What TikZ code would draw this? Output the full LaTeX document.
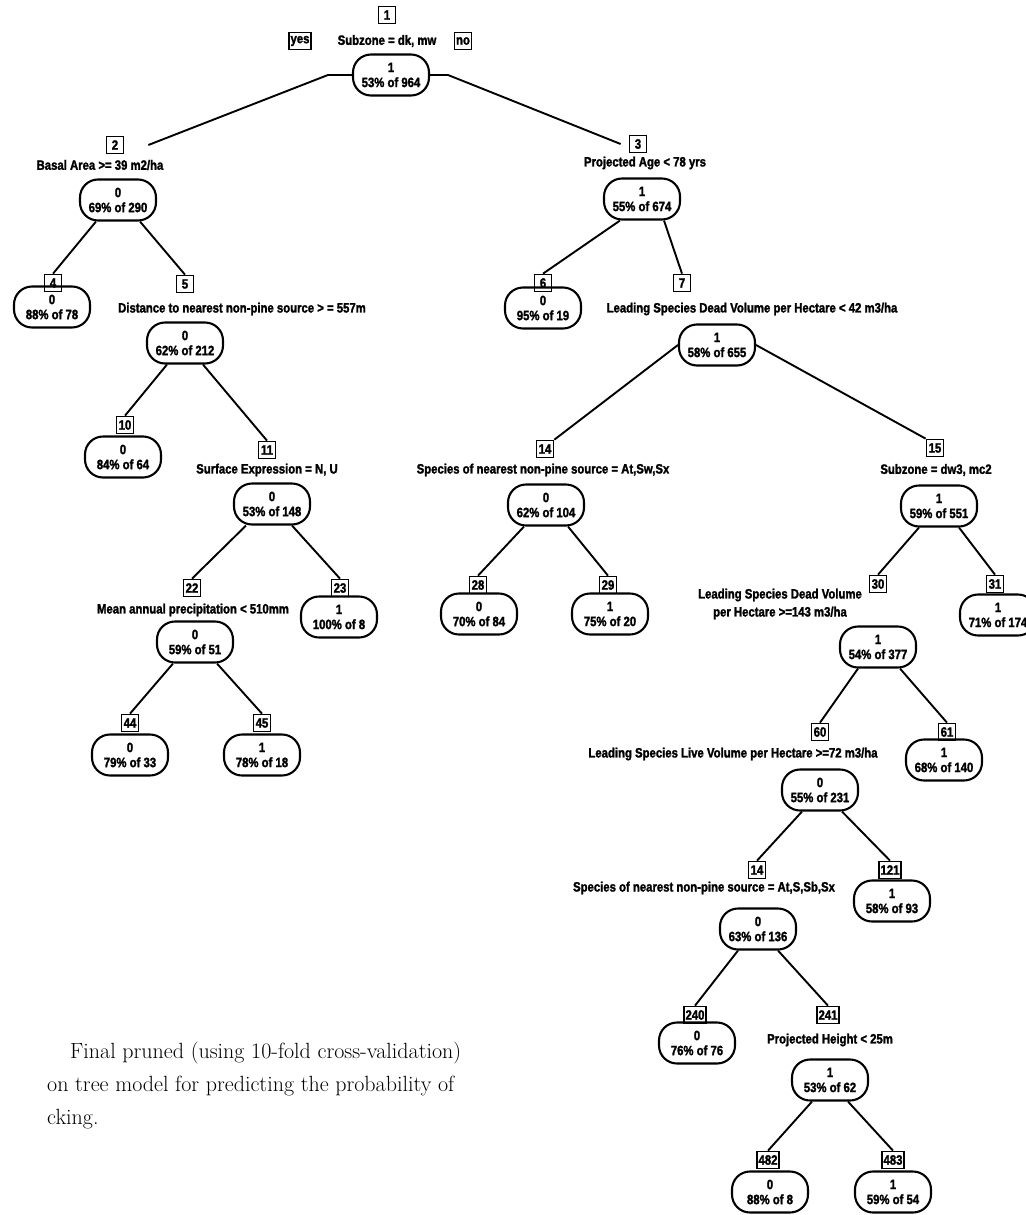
\documentclass[tikz,border=0pt]{standalone}
\usepackage{fontspec}
\newfontfamily\treefont[FakeStretch=0.84, BoldFeatures={FakeBold=1.8}]{Liberation Sans}
\usetikzlibrary{calc}

\begin{document}
\begin{tikzpicture}[x=1pt, y=-1pt,
   leaf/.style={draw, line width=2.1pt, rounded corners=18pt, minimum width=76pt,
                minimum height=41pt, inner sep=1pt, align=center,
                font=\treefont\bfseries\fontsize{13.5}{15}\selectfont},
   num/.style={draw, line width=1.7pt, inner sep=1.5pt, minimum height=17pt,
               minimum width=17pt, font=\treefont\bfseries\fontsize{13.5}{13}\selectfont},
   split/.style={inner sep=0pt, align=center,
                 font=\treefont\bfseries\fontsize{13.5}{18}\selectfont},
   branch/.style={line width=1.9pt},
   caption/.style={anchor=base west, inner sep=0pt, font=\fontsize{22}{26}\selectfont}]
  \useasboundingbox (0,0) rectangle (1025,1215);

  \node[num] (b1) at (387,15) {1};
  \node[split] (q1) at (387,41) {Subzone = dk, mw};
  \node[num] (yes) at (300,41) {yes};
  \node[num] (no) at (463,41) {no};
  \node[leaf] (o1) at (391,75) {1\\53\% of 964};

  \node[num] (b2) at (115,145) {2};
  \node[split] (q2) at (100,165) {Basal Area >= 39 m2/ha};
  \node[leaf] (o2) at (118,200) {0\\69\% of 290};

  \node[num] (b3) at (638,144) {3};
  \node[split] (q3) at (645,163) {Projected Age < 78 yrs};
  \node[leaf] (o3) at (642,199) {1\\55\% of 674};

  \node[num] (b4) at (53,283) {4};
  \node[leaf] (o4) at (52,307) {0\\88\% of 78};

  \node[num] (b5) at (185,284) {5};
  \node[split] (q5) at (242,309) {Distance to nearest non-pine source > = 557m};
  \node[leaf] (o5) at (185,343) {0\\62\% of 212};

  \node[num] (b6) at (543,283) {6};
  \node[leaf] (o6) at (543,308) {0\\95\% of 19};

  \node[num] (b7) at (682,283) {7};
  \node[split] (q7) at (752,309) {Leading Species Dead Volume per Hectare < 42 m3/ha};
  \node[leaf] (o7) at (717,345) {1\\58\% of 655};

  \node[num] (b10) at (125,425) {10};
  \node[leaf] (o10) at (123,457) {0\\84\% of 64};

  \node[num] (b11) at (267,450) {11};
  \node[split] (q11) at (267,470) {Surface Expression = N, U};
  \node[leaf] (o11) at (272,504) {0\\53\% of 148};

  \node[num] (b14) at (545,449) {14};
  \node[split] (q14) at (543,470) {Species of nearest non-pine source = At,Sw,Sx};
  \node[leaf] (o14) at (546,505) {0\\62\% of 104};

  \node[num] (b15) at (935,448) {15};
  \node[split] (q15) at (936,470) {Subzone = dw3, mc2};
  \node[leaf] (o15) at (939,506) {1\\59\% of 551};

  \node[num] (b22) at (192,588) {22};
  \node[split] (q22) at (193,610) {Mean annual precipitation < 510mm};
  \node[leaf] (o22) at (195,642) {0\\59\% of 51};

  \node[num] (b23) at (340,588) {23};
  \node[leaf] (o23) at (339,617) {1\\100\% of 8};

  \node[num] (b28) at (478,585) {28};
  \node[leaf] (o28) at (479,614) {0\\70\% of 84};

  \node[num] (b29) at (608,585) {29};
  \node[leaf] (o29) at (610,614) {1\\75\% of 20};

  \node[num] (b30) at (878,584) {30};
  \node[split] (q30) at (780,604) {Leading Species Dead Volume\\per Hectare >=143 m3/ha};
  \node[leaf] (o30) at (878,647) {1\\54\% of 377};

  \node[num] (b31) at (995,584) {31};
  \node[leaf] (o31) at (998,615) {1\\71\% of 174};

  \node[num] (b44) at (130,723) {44};
  \node[leaf] (o44) at (130,755) {0\\79\% of 33};

  \node[num] (b45) at (262,723) {45};
  \node[leaf] (o45) at (262,755) {1\\78\% of 18};

  \node[num] (b60) at (820,732) {60};
  \node[split] (q60) at (733,754) {Leading Species Live Volume per Hectare >=72 m3/ha};
  \node[leaf] (o60) at (820,790) {0\\55\% of 231};

  \node[num] (b61) at (947,732) {61};
  \node[leaf] (o61) at (944,760) {1\\68\% of 140};

  \node[num] (b120) at (757,870) {14};
  \node[split] (q120) at (704,888) {Species of nearest non-pine source = At,S,Sb,Sx};
  \node[leaf] (o120) at (758,929) {0\\63\% of 136};

  \node[num] (b121) at (890,870) {121};
  \node[leaf] (o121) at (892,901) {1\\58\% of 93};

  \node[num] (b240) at (695,1015) {240};
  \node[leaf] (o240) at (697,1043) {0\\76\% of 76};

  \node[num] (b241) at (828,1015) {241};
  \node[split] (q241) at (830,1040) {Projected Height < 25m};
  \node[leaf] (o241) at (830,1080) {1\\53\% of 62};

  \node[num] (b482) at (768,1160) {482};
  \node[leaf] (o482) at (770,1192) {0\\88\% of 8};

  \node[num] (b483) at (893,1160) {483};
  \node[leaf] (o483) at (893,1192) {1\\59\% of 54};

  \draw[branch] (o1.west) -- ++(-24,0) -- ([xshift=24pt]b2.east);
  \draw[branch] (o1.east) -- ++(18,0) -- ([xshift=-8pt]b3.west);
  \draw[branch] ([xshift=-22pt]o2.south) -- (b4.north);
  \draw[branch] ([xshift=22pt]o2.south) -- (b5.north);
  \draw[branch] ([xshift=-22pt]o3.south) -- (b6.north);
  \draw[branch] ([xshift=22pt]o3.south) -- (b7.north);
  \draw[branch] ([xshift=-18pt]o5.south) -- (b10.north);
  \draw[branch] ([xshift=18pt]o5.south) -- (b11.north);
  \draw[branch] (o7.west) -- (b14.north east);
  \draw[branch] (o7.east) -- (b15.north west);
  \draw[branch] ([xshift=-26pt]o11.south) -- (b22.north);
  \draw[branch] ([xshift=20pt]o11.south) -- (b23.north);
  \draw[branch] ([xshift=-22pt]o14.south) -- (b28.north);
  \draw[branch] ([xshift=22pt]o14.south) -- (b29.north);
  \draw[branch] ([xshift=-20pt]o15.south) -- (b30.north);
  \draw[branch] ([xshift=20pt]o15.south) -- (b31.north);
  \draw[branch] ([xshift=-22pt]o22.south) -- (b44.north);
  \draw[branch] ([xshift=22pt]o22.south) -- (b45.north);
  \draw[branch] ([xshift=-20pt]o30.south) -- (b60.north);
  \draw[branch] ([xshift=22pt]o30.south) -- (b61.north);
  \draw[branch] ([xshift=-18pt]o60.south) -- (b120.north);
  \draw[branch] ([xshift=22pt]o60.south) -- (b121.north);
  \draw[branch] ([xshift=-20pt]o120.south) -- (b240.north);
  \draw[branch] ([xshift=20pt]o120.south) -- (b241.north);
  \draw[branch] ([xshift=-18pt]o241.south) -- (b482.north);
  \draw[branch] ([xshift=18pt]o241.south) -- (b483.north);

  \node[caption] (cap1) at (70,1058) {Final pruned (using 10-fold cross-validation)};
  \node[caption] (cap2) at (47,1091) {on tree model for predicting the probability of};
  \node[caption] (cap3) at (47,1124) {cking.};
\end{tikzpicture}
\end{document}
